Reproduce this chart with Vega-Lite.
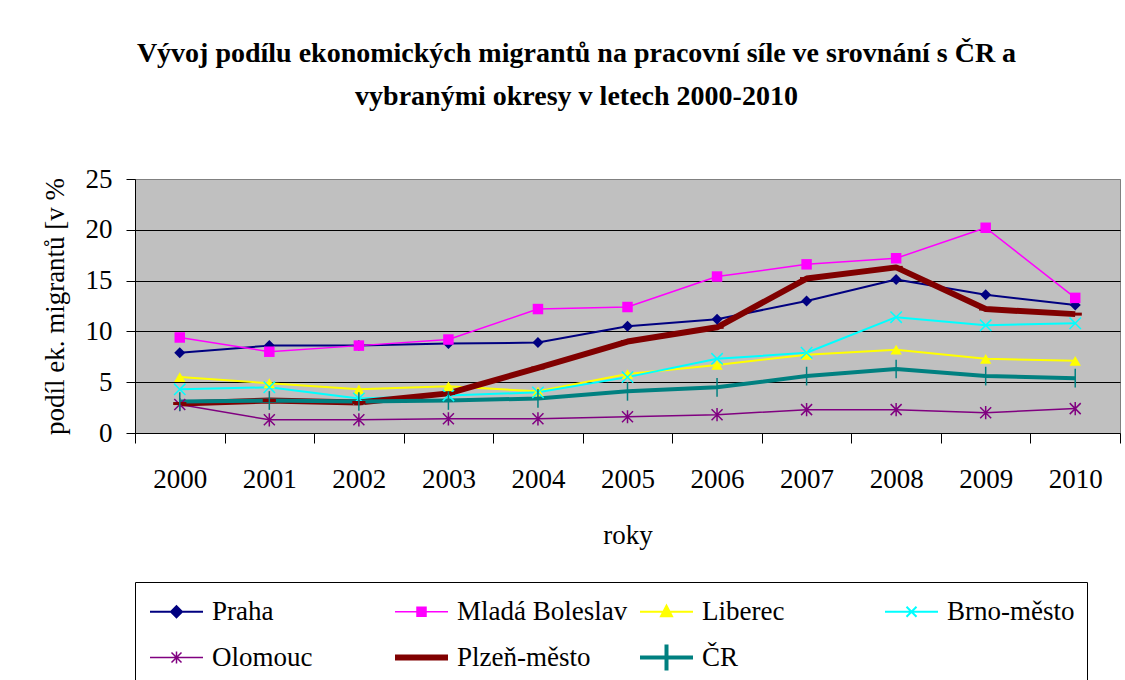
{
  "$schema": "https://vega.github.io/schema/vega-lite/v6.json",
  "width": 985,
  "height": 254,
  "autosize": {"type": "none"},
  "padding": {"left": 135, "top": 179, "right": 5, "bottom": 247},
  "background": "white",
  "title": {
    "text": ["Vývoj podílu ekonomických migrantů na pracovní síle ve srovnání s ČR a", "vybranými okresy v letech 2000-2010"],
    "font": "Liberation Serif",
    "fontSize": 28,
    "fontWeight": "bold",
    "color": "black",
    "lineHeight": 43,
    "anchor": "middle",
    "frame": "group",
    "dx": -51,
    "offset": 54
  },
  "datasets": {
    "d": [
      {"rok": "2000", "okres": "Praha", "podil": 7.9},
      {"rok": "2001", "okres": "Praha", "podil": 8.6},
      {"rok": "2002", "okres": "Praha", "podil": 8.6},
      {"rok": "2003", "okres": "Praha", "podil": 8.8},
      {"rok": "2004", "okres": "Praha", "podil": 8.9},
      {"rok": "2005", "okres": "Praha", "podil": 10.5},
      {"rok": "2006", "okres": "Praha", "podil": 11.2},
      {"rok": "2007", "okres": "Praha", "podil": 13.0},
      {"rok": "2008", "okres": "Praha", "podil": 15.1},
      {"rok": "2009", "okres": "Praha", "podil": 13.6},
      {"rok": "2010", "okres": "Praha", "podil": 12.6},
      {"rok": "2000", "okres": "Mladá Boleslav", "podil": 9.4},
      {"rok": "2001", "okres": "Mladá Boleslav", "podil": 8.0},
      {"rok": "2002", "okres": "Mladá Boleslav", "podil": 8.6},
      {"rok": "2003", "okres": "Mladá Boleslav", "podil": 9.2},
      {"rok": "2004", "okres": "Mladá Boleslav", "podil": 12.2},
      {"rok": "2005", "okres": "Mladá Boleslav", "podil": 12.4},
      {"rok": "2006", "okres": "Mladá Boleslav", "podil": 15.4},
      {"rok": "2007", "okres": "Mladá Boleslav", "podil": 16.6},
      {"rok": "2008", "okres": "Mladá Boleslav", "podil": 17.2},
      {"rok": "2009", "okres": "Mladá Boleslav", "podil": 20.2},
      {"rok": "2010", "okres": "Mladá Boleslav", "podil": 13.3},
      {"rok": "2000", "okres": "Liberec", "podil": 5.5},
      {"rok": "2001", "okres": "Liberec", "podil": 4.9},
      {"rok": "2002", "okres": "Liberec", "podil": 4.3},
      {"rok": "2003", "okres": "Liberec", "podil": 4.6},
      {"rok": "2004", "okres": "Liberec", "podil": 4.1},
      {"rok": "2005", "okres": "Liberec", "podil": 5.8},
      {"rok": "2006", "okres": "Liberec", "podil": 6.7},
      {"rok": "2007", "okres": "Liberec", "podil": 7.7},
      {"rok": "2008", "okres": "Liberec", "podil": 8.2},
      {"rok": "2009", "okres": "Liberec", "podil": 7.3},
      {"rok": "2010", "okres": "Liberec", "podil": 7.1},
      {"rok": "2000", "okres": "Brno-město", "podil": 4.3},
      {"rok": "2001", "okres": "Brno-město", "podil": 4.5},
      {"rok": "2002", "okres": "Brno-město", "podil": 3.4},
      {"rok": "2003", "okres": "Brno-město", "podil": 3.7},
      {"rok": "2004", "okres": "Brno-město", "podil": 4.0},
      {"rok": "2005", "okres": "Brno-město", "podil": 5.5},
      {"rok": "2006", "okres": "Brno-město", "podil": 7.3},
      {"rok": "2007", "okres": "Brno-město", "podil": 7.9},
      {"rok": "2008", "okres": "Brno-město", "podil": 11.4},
      {"rok": "2009", "okres": "Brno-město", "podil": 10.6},
      {"rok": "2010", "okres": "Brno-město", "podil": 10.8},
      {"rok": "2000", "okres": "Olomouc", "podil": 2.8},
      {"rok": "2001", "okres": "Olomouc", "podil": 1.3},
      {"rok": "2002", "okres": "Olomouc", "podil": 1.3},
      {"rok": "2003", "okres": "Olomouc", "podil": 1.4},
      {"rok": "2004", "okres": "Olomouc", "podil": 1.4},
      {"rok": "2005", "okres": "Olomouc", "podil": 1.6},
      {"rok": "2006", "okres": "Olomouc", "podil": 1.8},
      {"rok": "2007", "okres": "Olomouc", "podil": 2.3},
      {"rok": "2008", "okres": "Olomouc", "podil": 2.3},
      {"rok": "2009", "okres": "Olomouc", "podil": 2.0},
      {"rok": "2010", "okres": "Olomouc", "podil": 2.4},
      {"rok": "2000", "okres": "Plzeň-město", "podil": 2.9},
      {"rok": "2001", "okres": "Plzeň-město", "podil": 3.2},
      {"rok": "2002", "okres": "Plzeň-město", "podil": 3.0},
      {"rok": "2003", "okres": "Plzeň-město", "podil": 3.9},
      {"rok": "2004", "okres": "Plzeň-město", "podil": 6.4},
      {"rok": "2005", "okres": "Plzeň-město", "podil": 9.0},
      {"rok": "2006", "okres": "Plzeň-město", "podil": 10.4},
      {"rok": "2007", "okres": "Plzeň-město", "podil": 15.2},
      {"rok": "2008", "okres": "Plzeň-město", "podil": 16.3},
      {"rok": "2009", "okres": "Plzeň-město", "podil": 12.2},
      {"rok": "2010", "okres": "Plzeň-město", "podil": 11.7},
      {"rok": "2000", "okres": "ČR", "podil": 3.1},
      {"rok": "2001", "okres": "ČR", "podil": 3.2},
      {"rok": "2002", "okres": "ČR", "podil": 3.1},
      {"rok": "2003", "okres": "ČR", "podil": 3.2},
      {"rok": "2004", "okres": "ČR", "podil": 3.4},
      {"rok": "2005", "okres": "ČR", "podil": 4.1},
      {"rok": "2006", "okres": "ČR", "podil": 4.5},
      {"rok": "2007", "okres": "ČR", "podil": 5.6},
      {"rok": "2008", "okres": "ČR", "podil": 6.3},
      {"rok": "2009", "okres": "ČR", "podil": 5.6},
      {"rok": "2010", "okres": "ČR", "podil": 5.4}
    ]
  },
  "data": {"name": "d"},
  "encoding": {
    "x": {
      "field": "rok",
      "type": "ordinal",
      "bandPosition": 0.5,
      "scale": {"type": "band", "paddingInner": 0, "paddingOuter": 0},
      "axis": {
        "title": "roky",
        "labelAngle": 0,
        "tickBand": "extent",
        "tickSize": 10,
        "labelPadding": 23,
        "titlePadding": 30,
        "grid": false
      }
    },
    "y": {
      "field": "podil",
      "type": "quantitative",
      "scale": {"domain": [0, 25], "nice": false},
      "axis": {
        "title": "podíl ek. migrantů [v %",
        "values": [0, 5, 10, 15, 20, 25],
        "grid": true,
        "gridColor": {"condition": {"test": "datum.value === 25 || datum.value === 0", "value": "#808080"}, "value": "black"},
        "gridOpacity": 1,
        "tickSize": 9,
        "labelPadding": 14,
        "titlePadding": 16
      }
    }
  },
  "layer": [
    {
      "mark": {"type": "line", "strokeJoin": "round"},
      "encoding": {
        "color": {
          "field": "okres",
          "type": "nominal",
          "sort": null,
          "scale": {
            "domain": ["Praha", "Mladá Boleslav", "Liberec", "Brno-město", "Olomouc", "Plzeň-město", "ČR"],
            "range": ["#000080", "#FF00FF", "#FFFF00", "#00FFFF", "#800080", "#800000", "#008080"]
          },
          "legend": {
            "orient": "none",
            "legendX": 0,
            "legendY": 403,
            "direction": "horizontal",
            "columns": 4,
            "gridAlign": "all",
            "title": null,
            "symbolSize": 400,
            "symbolOffset": 16,
            "labelOffset": 22,
            "columnPadding": 0,
            "rowPadding": 7,
            "padding": 12,
            "strokeColor": "black",
            "fillColor": "white",
            "labelFont": "Liberation Serif",
            "labelFontSize": 27,
            "labelColor": "black",
            "labelLimit": 400,
            "encode": {
              "symbols": {
                "update": {
                  "shape": {"signal": "['M-2.65,0H2.65M0,-0.55L0.55,0L0,0.55L-0.55,0Z','M-2.65,0H2.65M-0.45,-0.45H0.45V0.45H-0.45Z','M-2.65,0H2.65M0,-0.6L0.55,0.45H-0.55Z','M-2.65,0H2.65M-0.5,-0.5L0.5,0.5M-0.5,0.5L0.5,-0.5','M-2.65,0H2.65M-0.5,-0.5L0.5,0.5M-0.5,0.5L0.5,-0.5M0,-0.6V0.6','M-2.65,0H2.65','M-2.65,0H2.65M0,-1.3V1.3'][datum.index]"},
                  "strokeWidth": {"signal": "[2,1.5,2,2,1.5,5,4][datum.index]"},
                  "fill": {"scale": "color", "field": "value"},
                  "stroke": {"scale": "color", "field": "value"}
                }
              }
            }
          }
        },
        "strokeWidth": {
          "field": "okres",
          "type": "nominal",
          "scale": {
            "type": "ordinal",
            "domain": ["Praha", "Mladá Boleslav", "Liberec", "Brno-město", "Olomouc", "Plzeň-město", "ČR"],
            "range": [2, 1.5, 2, 2, 1.5, 6, 4]
          },
          "legend": null
        }
      }
    },
    {
      "transform": [{"filter": {"field": "okres", "equal": "Praha"}}],
      "mark": {"type": "point", "shape": "diamond", "filled": true, "color": "#000080", "opacity": 1, "size": 121}
    },
    {
      "transform": [{"filter": {"field": "okres", "equal": "Mladá Boleslav"}}],
      "mark": {"type": "point", "shape": "square", "filled": true, "color": "#FF00FF", "opacity": 1, "size": 110}
    },
    {
      "transform": [{"filter": {"field": "okres", "equal": "Liberec"}}],
      "mark": {"type": "point", "shape": "triangle-up", "filled": true, "color": "#FFFF00", "opacity": 1, "size": 130}
    },
    {
      "transform": [{"filter": {"field": "okres", "equal": "Brno-město"}}],
      "mark": {"type": "point", "shape": "M-1,-1L1,1M-1,1L1,-1", "filled": false, "color": "#00FFFF", "strokeWidth": 1.5, "opacity": 1, "size": 130}
    },
    {
      "transform": [{"filter": {"field": "okres", "equal": "Olomouc"}}],
      "mark": {"type": "point", "shape": "M-1,-1L1,1M-1,1L1,-1M0,-1.2V1.2", "filled": false, "color": "#800080", "strokeWidth": 1.5, "opacity": 1, "size": 121}
    },
    {
      "transform": [{"filter": {"field": "okres", "equal": "Plzeň-město"}}],
      "mark": {"type": "point", "shape": "M-1.2,0H1.2", "filled": false, "color": "#800000", "strokeWidth": 3, "opacity": 1, "size": 121}
    },
    {
      "transform": [{"filter": {"field": "okres", "equal": "ČR"}}],
      "mark": {"type": "point", "shape": "M0,-1.7V1.7", "filled": false, "color": "#008080", "strokeWidth": 1.5, "opacity": 1, "size": 121}
    }
  ],
  "config": {
    "view": {"fill": "#C0C0C0", "stroke": "#808080", "strokeWidth": 1},
    "font": "Liberation Serif",
    "axis": {
      "domainColor": "black",
      "tickColor": "black",
      "labelColor": "black",
      "titleColor": "black",
      "labelFont": "Liberation Serif",
      "titleFont": "Liberation Serif",
      "labelFontSize": 27,
      "titleFontSize": 27,
      "titleFontWeight": "normal",
      "domainWidth": 1,
      "tickWidth": 1
    }
  }
}
